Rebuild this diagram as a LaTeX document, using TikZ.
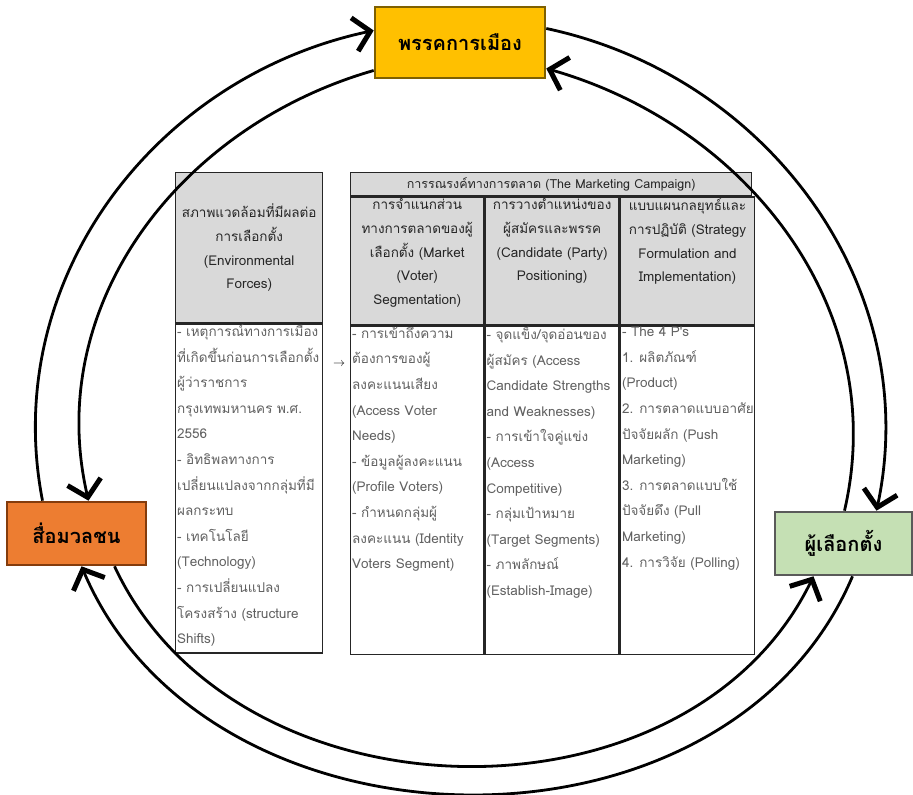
\documentclass[tikz,border=0pt]{standalone}
\usepackage{fontspec}
\newfontfamily\thaifont[Script=Thai]{Loma}
\usetikzlibrary{positioning,arrows.meta}

\definecolor{partyfill}{HTML}{FFC000}
\definecolor{partyline}{HTML}{7F6000}
\definecolor{mediafill}{HTML}{ED7D31}
\definecolor{medialine}{HTML}{843C0C}
\definecolor{voterfill}{HTML}{C5E0B4}
\definecolor{voterline}{HTML}{5A5A5A}
\definecolor{headgray}{HTML}{D9D9D9}

\newcommand\cellfont{\thaifont\fontsize{13.5}{25.6}\selectfont}
\newcommand\headfont{\thaifont\fontsize{13.5}{23.8}\selectfont}

\begin{document}
\begin{tikzpicture}[x=1pt,y=1pt,
    actor/.style={draw, line width=2.6pt, inner sep=0pt,
      font=\thaifont\bfseries\fontsize{20}{22}\selectfont},
    flow/.style={line width=2.8pt,
      -{Straight Barb[length=16pt,width=34pt,line width=5pt]}},
    headcell/.style={draw=black!85, line width=1.4pt, fill=headgray,
      inner sep=0pt, align=center, font=\headfont, text=black!85},
    bodycell/.style={draw=black!85, line width=1.4pt, inner sep=0pt},
    celltext/.style={anchor=north west, align=left, inner sep=2pt,
      font=\cellfont, text=black!62},
    headtext/.style={anchor=north, align=center, inner sep=2pt,
      font=\headfont, text=black!85}]

  \fill[white] (0,0) rectangle (913,795);
  \useasboundingbox (0,0) rectangle (913,795);

  % environment column
  \node[headcell, anchor=north west, minimum width=147pt, minimum height=150pt]
    (envhead) at (175,623)
    {สภาพแวดล้อมที่มีผลต่อ\\การเลือกตั้ง\\(Environmental\\Forces)};
  \node[bodycell, minimum width=147pt, minimum height=329pt, below=0pt of envhead] (envbody) {};
  \node[celltext] (envtext) at ([yshift=1pt]envbody.north west)
    {- เหตุการณ์ทางการเมือง\\ที่เกิดขึ้นก่อนการเลือกตั้ง\\ผู้ว่าราชการ\\กรุงเทพมหานคร พ.ศ.\\2556\\- อิทธิพลทางการ\\เปลี่ยนแปลงจากกลุ่มที่มี\\ผลกระทบ\\- เทคโนโลยี\\(Technology)\\- การเปลี่ยนแปลง\\โครงสร้าง (structure\\Shifts)};

  \node[font=\fontsize{12}{14}\selectfont, inner sep=0pt] (lead) at (339,431) {$\rightarrow$};

  % campaign columns
  \node[headcell, anchor=north west, minimum width=401pt, minimum height=23pt,
    font=\thaifont\fontsize{12.5}{14}\selectfont]
    (campaign) at (350,623) {การรณรงค์ทางการตลาด (The Marketing Campaign)};
  \node[headcell, anchor=north west, minimum width=133pt, minimum height=128pt]
    (segment) at (campaign.south west) {};
  \node[headcell, anchor=north west, minimum width=134pt, minimum height=128pt]
    (position) at (segment.north east) {};
  \node[headcell, anchor=north west, minimum width=134pt, minimum height=128pt]
    (strategy) at (position.north east) {};
  \node[headtext] at (segment.north)
    {การจำแนกส่วน\\ทางการตลาดของผู้\\เลือกตั้ง (Market\\(Voter)\\Segmentation)};
  \node[headtext] at (position.north)
    {การวางตำแหน่งของ\\ผู้สมัครและพรรค\\(Candidate (Party)\\Positioning)};
  \node[headtext] at (strategy.north)
    {แบบแผนกลยุทธ์และ\\การปฏิบัติ (Strategy\\Formulation and\\Implementation)};

  \node[bodycell, minimum width=133pt, minimum height=328pt, below=0pt of segment] (segbody) {};
  \node[bodycell, minimum width=134pt, minimum height=328pt, below=0pt of position] (posbody) {};
  \node[bodycell, minimum width=134pt, minimum height=328pt, below=0pt of strategy] (stratbody) {};
  \node[celltext] at ([yshift=1pt]segbody.north west)
    {- การเข้าถึงความ\\ต้องการของผู้\\ลงคะแนนเสียง\\(Access Voter\\Needs)\\- ข้อมูลผู้ลงคะแนน\\(Profile Voters)\\- กำหนดกลุ่มผู้\\ลงคะแนน (Identity\\Voters Segment)};
  \node[celltext] at ([yshift=1pt]posbody.north west)
    {- จุดแข็ง/จุดอ่อนของ\\ผู้สมัคร (Access\\Candidate Strengths\\and Weaknesses)\\- การเข้าใจคู่แข่ง\\(Access\\Competitive)\\- กลุ่มเป้าหมาย\\(Target Segments)\\- ภาพลักษณ์\\(Establish-Image)};
  \node[celltext] at ([yshift=1pt]stratbody.north west)
    {- The 4 P's\\1. ผลิตภัณฑ์\\(Product)\\2. การตลาดแบบอาศัย\\ปัจจัยผลัก (Push\\Marketing)\\3. การตลาดแบบใช้\\ปัจจัยดึง (Pull\\Marketing)\\4. การวิจัย (Polling)};

  % the three actors
  \node[actor, fill=partyfill, draw=partyline, minimum width=170pt, minimum height=71pt]
    (party) at (460,752.5) {พรรคการเมือง};
  \node[actor, fill=mediafill, draw=medialine, minimum width=139pt, minimum height=63pt]
    (media) at (76.5,261.5) {สื่อมวลชน};
  \node[actor, fill=voterfill, draw=voterline, minimum width=137pt, minimum height=63pt]
    (voters) at (843.5,251.5) {ผู้เลือกตั้ง};

  % flows round the cycle
  \draw[flow] ([xshift=-34pt]media.north) to[out=101,in=192] ([yshift=12pt]party.west);
  \draw[flow] ([yshift=-28pt]party.west) to[out=196,in=103] ([xshift=12pt]media.north);
  \draw[flow] ([yshift=14pt]party.east) to[out=-12,in=78] ([xshift=33pt]voters.north);
  \draw[flow] ([xshift=1pt]voters.north) to[out=77,in=-16] ([yshift=-26pt]party.east);
  \draw[flow] ([xshift=38pt]media.south) to[out=-65,in=-116,looseness=1.05] ([xshift=-30pt]voters.south);
  \draw[flow] ([xshift=9pt]voters.south) to[out=-113,in=-67,looseness=1.07] ([xshift=5pt]media.south);
\end{tikzpicture}
\end{document}
